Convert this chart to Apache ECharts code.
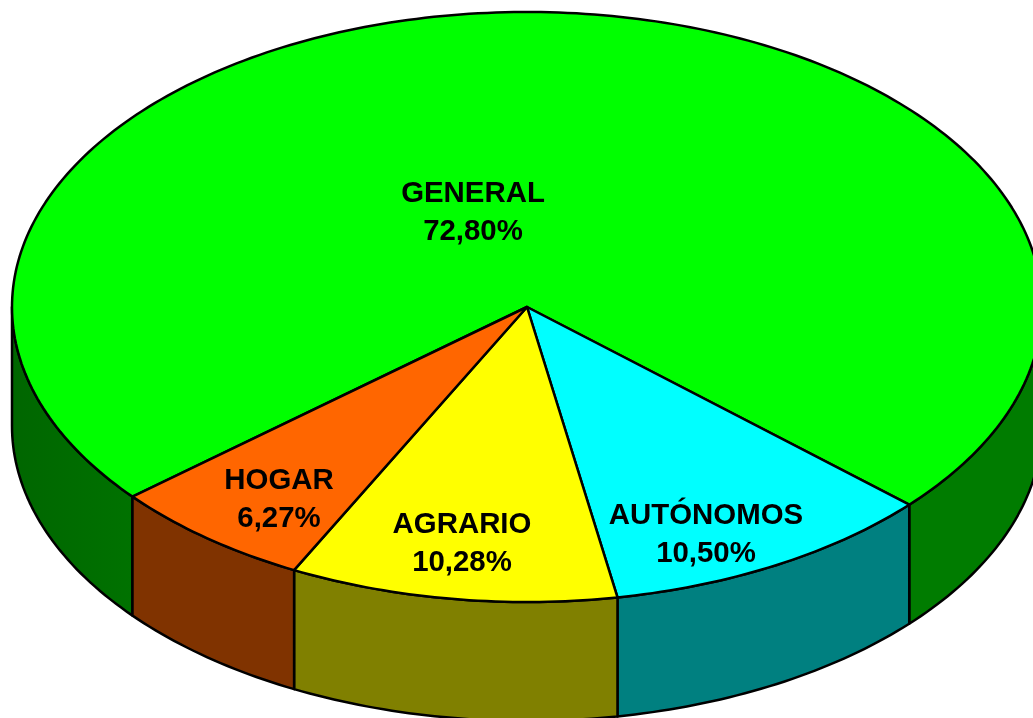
<!DOCTYPE html>
<html>
<head>
<meta charset="utf-8">
<style>
  html, body { margin: 0; padding: 0; background: #fff; }
  #chart { width: 1033px; height: 718px; overflow: hidden; }
</style>
<script src="https://cdn.jsdelivr.net/npm/echarts@6/dist/echarts.min.js"></script>
</head>
<body>
<div id="chart"></div>
<script>
  // data, clockwise from the HOGAR/GENERAL boundary
  var categories = ['GENERAL', 'AUTÓNOMOS', 'AGRARIO', 'HOGAR'];
  var values = [72.80, 10.50, 10.28, 6.27];

  var topColors = ['#00ff00', '#00ffff', '#ffff00', '#ff6600'];
  var sideColors = ['#007c00', '#008080', '#808000', '#803300'];
  // the left part of the GENERAL wall gets darker towards the edge
  var leftWall = new echarts.graphic.LinearGradient(0, 0, 1, 0, [
    {offset: 0, color: '#006600'},
    {offset: 1, color: '#007200'}
  ]);

  // pie geometry in pixels
  var cx = 527, cy = 307, rx = 515, ry = 295, depth = 119;
  var startAngle = 140;
  // label centre for each slice, relative to the pie centre
  var labelOffset = [[-54, -94], [179, 228], [-65, 237], [-248, 193]];

  function rim(deg, drop) {
    var a = deg * Math.PI / 180;
    return [cx + rx * Math.cos(a), cy + ry * Math.sin(a) + (drop || 0)];
  }

  function arc(from, to, drop) {
    var pts = [];
    var n = Math.max(2, Math.ceil(Math.abs(to - from)));
    for (var i = 0; i <= n; i++) {
      pts.push(rim(from + (to - from) * i / n, drop));
    }
    return pts;
  }

  // start and end angle of slice i, the printed shares do not add up to
  // exactly 100 so the last slice closes the circle
  function sliceAngles(i) {
    var before = 0;
    for (var k = 0; k < i; k++) before += values[k];
    var from = startAngle + before / 100 * 360;
    var to = i === values.length - 1 ? startAngle + 360 : from + values[i] / 100 * 360;
    return [from, to];
  }

  var lineStyle = {stroke: '#000', lineWidth: 2.5, lineJoin: 'round'};

  function polygon(points, fill) {
    return {
      type: 'polygon',
      shape: {points: points},
      style: Object.assign({fill: fill}, lineStyle)
    };
  }

  // the wall below the visible front half (0..180 deg, and 360..540)
  function renderSide(params, api) {
    var i = api.value(0);
    var angles = sliceAngles(i);
    var children = [];
    [[0, 180], [360, 540]].forEach(function (front) {
      var from = Math.max(angles[0], front[0]);
      var to = Math.min(angles[1], front[1]);
      if (to <= from) return;
      var pts = arc(from, to, 0).concat(arc(to, from, depth));
      var onLeft = i === 0 && front[0] === 0;
      children.push(polygon(pts, onLeft ? leftWall : sideColors[i]));
    });
    return {type: 'group', children: children};
  }

  function renderTop(params, api) {
    var i = api.value(0);
    var angles = sliceAngles(i);
    var pts = [[cx, cy]].concat(arc(angles[0], angles[1], 0));
    return polygon(pts, topColors[i]);
  }

  function renderLabel(params, api) {
    var i = api.value(0);
    return {
      type: 'text',
      style: {
        x: cx + labelOffset[i][0],
        y: cy + labelOffset[i][1],
        text: categories[i] + '\n' + values[i].toFixed(2).replace('.', ',') + '%',
        fill: '#000',
        font: 'bold 29.4px "Liberation Sans", Arial, sans-serif',
        lineHeight: 38.5,
        align: 'center',
        verticalAlign: 'middle'
      }
    };
  }

  var seriesData = categories.map(function (name, i) { return [i, values[i]]; });

  function layer(render, z) {
    return {
      type: 'custom',
      coordinateSystem: 'none',
      renderItem: render,
      data: seriesData,
      z: z,
      animation: false,
      silent: true
    };
  }

  var chart = echarts.init(document.getElementById('chart'), null, {renderer: 'canvas'});
  chart.setOption({
    animation: false,
    backgroundColor: '#fff',
    series: [layer(renderSide, 1), layer(renderTop, 2), layer(renderLabel, 3)]
  });
</script>
</body>
</html>
